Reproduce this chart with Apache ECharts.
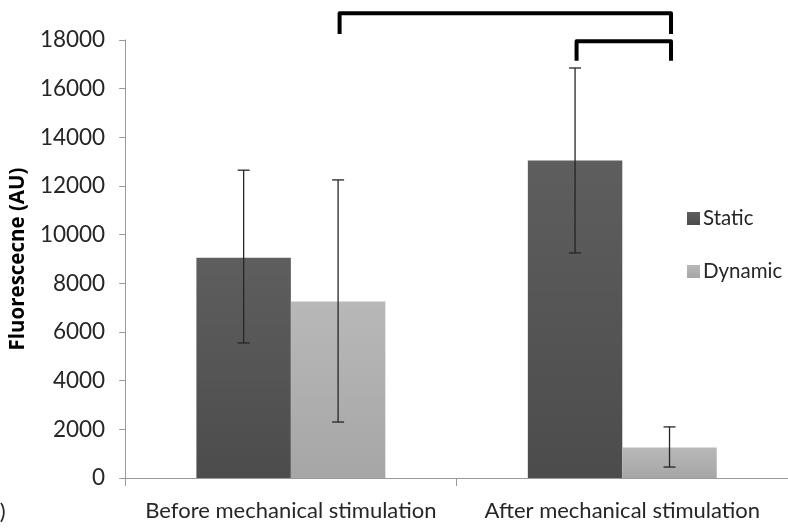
<!DOCTYPE html>
<html>
<head>
<meta charset="utf-8">
<script src="https://cdn.jsdelivr.net/npm/echarts@6/dist/echarts.min.js"></script>
<style>html,body{margin:0;padding:0;background:#fff}#c{width:788px;height:528px}</style>
</head>
<body>
<div id="c"></div>
<script>
// ---- data ----
var categories = ['Before mechanical stimulation', 'After mechanical stimulation'];
var seriesNames = ['Static', 'Dynamic'];
var staticValues = [9050, 13050];
var dynamicValues = [7250, 1250];
var staticErr = [[5550, 12650], [9250, 16850]];   // [low, high]
var dynamicErr = [[2300, 12250], [450, 2100]];
var yTicks = [0, 2000, 4000, 6000, 8000, 10000, 12000, 14000, 16000, 18000];
// significance brackets: [fromCat, fromSeries, toCat, toSeries, barLevel, dropLevel]
var brackets = [[0, 1, 1, 1, 19100, 18250], [1, 0, 1, 1, 17950, 17150]];

var FONT = 'Lato';
var BAR_FRAC = 0.285;
var BRACKET_SHIFT = 1.5;

function offsetFor(seriesIdx, band) {
  return (seriesIdx === 0 ? -1 : 1) * band * BAR_FRAC / 2;
}

function errRender(seriesIdx) {
  return function (params, api) {
    var cat = api.value(0);
    var lo = api.coord([cat, api.value(1)]);
    var hi = api.coord([cat, api.value(2)]);
    var band = api.size([1, 0])[0];
    var x = lo[0] + offsetFor(seriesIdx, band);
    var cap = 6;
    var st = { stroke: '#262626', lineWidth: 1.3 };
    return {
      type: 'group',
      children: [
        { type: 'line', shape: { x1: x, y1: lo[1], x2: x, y2: hi[1] }, style: st },
        { type: 'line', shape: { x1: x - cap, y1: lo[1], x2: x + cap, y2: lo[1] }, style: st },
        { type: 'line', shape: { x1: x - cap, y1: hi[1], x2: x + cap, y2: hi[1] }, style: st }
      ]
    };
  };
}

function bracketRender(params, api) {
  var band = api.size([1, 0])[0];
  var top = api.coord([api.value(0), api.value(4)]);
  var drop = api.coord([api.value(0), api.value(5)]);
  var x1 = api.coord([api.value(0), 0])[0] + offsetFor(api.value(1), band) + BRACKET_SHIFT;
  var x2 = api.coord([api.value(2), 0])[0] + offsetFor(api.value(3), band) + BRACKET_SHIFT;
  return {
    type: 'polyline',
    shape: { points: [[x1, drop[1]], [x1, top[1]], [x2, top[1]], [x2, drop[1]]] },
    style: { stroke: '#000', lineWidth: 4, fill: null, lineJoin: 'round' }
  };
}

function errData(arr) {
  return arr.map(function (d, i) { return [i, d[0], d[1]]; });
}

var chart = echarts.init(document.getElementById('c'), null, { renderer: 'canvas' });
chart.setOption({
  animation: false,
  textStyle: { fontFamily: FONT },
  grid: { left: 123, top: 40, width: 674, bottom: 50, containLabel: false },
  legend: {
    orient: 'vertical', left: 682, top: 203, itemWidth: 13, itemHeight: 13, itemGap: 32,
    icon: 'rect', data: seriesNames,
    textStyle: { fontFamily: FONT, fontSize: 20.5, color: '#262626', padding: [0, 0, 0, -2] }
  },
  xAxis: {
    type: 'category', data: categories, boundaryGap: true,
    axisLine: { lineStyle: { color: '#9a9a9a', width: 1 } },
    axisTick: { show: true, length: 8, lineStyle: { color: '#9a9a9a' } },
    axisLabel: { fontFamily: FONT, fontSize: 22, color: '#262626', margin: 22, interval: 0, hideOverlap: false }
  },
  yAxis: {
    type: 'value', min: 0, max: 18000, interval: 2000,
    name: 'Fluorescecne (AU)', nameLocation: 'middle', nameGap: 91,
    nameTextStyle: { fontFamily: 'Open Sans', fontSize: 20.5, fontWeight: 'bold', color: '#000' },
    axisLine: { show: true, lineStyle: { color: '#9a9a9a', width: 1 } },
    axisTick: { show: true, length: 6, lineStyle: { color: '#9a9a9a' } },
    splitLine: { show: false },
    axisLabel: {
      fontFamily: FONT, fontSize: 22.5, color: '#262626', margin: 20,
      formatter: function (v) { return yTicks.indexOf(v) >= 0 ? String(v) : ''; }
    }
  },
  series: [
    {
      name: 'Static', type: 'bar', data: staticValues, barWidth: (BAR_FRAC * 100) + '%', barGap: '0%',
      itemStyle: { color: new echarts.graphic.LinearGradient(0, 0, 0, 1, [{ offset: 0, color: '#5e5e5e' }, { offset: 1, color: '#4c4c4c' }]) }
    },
    {
      name: 'Dynamic', type: 'bar', data: dynamicValues, barWidth: (BAR_FRAC * 100) + '%', barGap: '0%',
      itemStyle: { color: new echarts.graphic.LinearGradient(0, 0, 0, 1, [{ offset: 0, color: '#b8b8b8' }, { offset: 1, color: '#a6a6a6' }]) }
    },
    { type: 'custom', renderItem: errRender(0), data: errData(staticErr), encode: { x: 0, y: [1, 2] }, z: 5, silent: true, clip: false },
    { type: 'custom', renderItem: errRender(1), data: errData(dynamicErr), encode: { x: 0, y: [1, 2] }, z: 5, silent: true, clip: false },
    { type: 'custom', renderItem: bracketRender, data: brackets, encode: { x: 0, y: 4 }, z: 6, silent: true, clip: false }
  ],
  graphic: [
    { type: 'text', left: -12, top: 501, style: { text: 'b)', fontFamily: FONT, fontSize: 22, fill: '#262626' } }
  ]
});
</script>
</body>
</html>
